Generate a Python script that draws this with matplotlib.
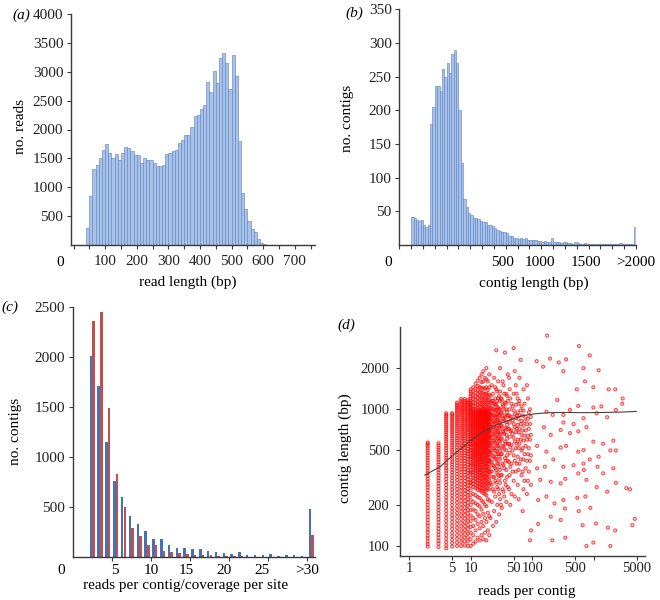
import numpy as np
import matplotlib
matplotlib.use('Agg')
import matplotlib.pyplot as plt

plt.rcParams['font.family'] = ['Liberation Serif', 'DejaVu Serif']
plt.rcParams['font.size'] = 11

# ---------------- (a) read length histogram (10 bp bins) ----------------
read_bin_centers = list(range(45, 620, 10))
read_counts = [300, 850, 1320, 1390, 1500, 1650, 1750, 1600, 1500, 1580, 1470, 1600,
               1700, 1680, 1620, 1550, 1560, 1420, 1500, 1470, 1480, 1420, 1360, 1370,
               1390, 1580, 1600, 1620, 1650, 1760, 1820, 1900, 1910, 2050, 2230, 2250,
               2350, 2420, 2820, 2650, 3020, 2800, 3240, 3330, 3150, 2700, 3290, 2920,
               1800, 900, 620, 420, 270, 230, 100, 40, 15, 8]
read_ticks = [100, 200, 300, 400, 500, 600, 700]

# ---------------- (b) contig length histogram (20 bp bins) ----------------
contig_bin_starts = list(range(100, 1980, 20))
contig_counts = [42, 40, 37, 36, 37, 29, 26, 30,
                 180, 205, 236, 236, 228, 262, 250, 270, 255, 283, 289, 270, 200, 122,
                 68, 56, 48, 44, 40, 40, 38, 35, 34, 34, 30, 29, 28, 25, 22, 21, 19, 20,
                 18, 14, 13, 11, 11, 9,
                 10, 9, 10, 8, 8, 7, 7, 6, 6, 5, 6, 5, 4, 10, 4, 4, 5, 3, 4, 5,
                 3, 3, 2, 4, 3, 2, 2, 3, 2, 2, 2, 1, 2, 2, 1, 2, 1, 1, 2, 1,
                 1, 1, 3, 1, 1, 1, 1, 1]
contig_over2000 = 27
contig_tick_labels = ['500', '1000', '1500', '>2000']

# ---------------- (c) reads per contig / coverage per site ----------------
c_categories = [str(i) for i in range(2, 30)] + ['>30']
reads_per_contig = [2010, 1710, 1150, 760, 600, 412, 329, 262, 180, 180, 123, 88, 93, 80,
                    86, 60, 52, 42, 33, 50, 26, 26, 20, 30, 13, 20, 20, 13, 480]
coverage_per_site = [2360, 2450, 1485, 828, 498, 296, 210, 123, 118, 66, 54, 44, 33, 26,
                     26, 20, 15, 12, 10, 10, 7, 7, 5, 5, 5, 5, 4, 4, 222]
c_tick_labels = ['5', '10', '15', '20', '25', '>30']

# ---------------- (d) contig length vs reads per contig ----------------
d_columns = {
    2: [99, 103, 108, 114, 119, 126, 132, 140, 147, 155, 163, 172, 181, 190, 200, 210, 221, 232,
        244, 256, 269, 282, 296, 310, 325, 340, 356, 372, 389, 406, 424, 442, 461, 480, 500,
        520, 540, 558, 570],
    3: [98, 104, 109, 115, 121, 127, 134, 141, 149, 157, 165, 174, 183, 193, 203, 214, 225, 237,
        249, 261, 274, 287, 301, 315, 330, 345, 361, 377, 394, 411, 429, 447, 466, 485, 505,
        525, 545, 565],
    4: [96, 101, 107, 113, 120, 127, 135, 143, 152, 161, 171, 181, 192, 203, 215, 227, 240, 253,
        266, 280, 294, 309, 324, 340, 356, 372, 389, 406, 424, 442, 461, 480, 500, 520, 541,
        562, 584, 606, 629, 652, 676, 700, 725, 750, 776, 802, 829, 856, 884, 912, 935],
    5: [99, 105, 111, 118, 125, 133, 141, 150, 159, 168, 178, 188, 199, 210, 222, 234, 246, 259,
        272, 286, 300, 315, 330, 346, 362, 378, 395, 412, 430, 448, 467, 486, 506, 526, 547,
        568, 590, 612, 635, 658, 682, 706, 731, 756, 782, 808, 835, 862, 890, 918, 935],
    6: [100, 106, 113, 120, 128, 136, 145, 154, 164, 174, 185, 196, 208, 220, 233, 246, 260, 274,
        289, 304, 320, 336, 353, 370, 388, 406, 425, 444, 464, 484, 505, 526, 548, 570, 593,
        616, 640, 664, 689, 714, 740, 766, 793, 820, 848, 876, 905, 934, 964, 994, 1025, 1056,
        1088, 1120],
    7: [100, 107, 114, 122, 130, 139, 148, 158, 168, 179, 190, 202, 214, 227, 240, 254, 268, 283,
        298, 314, 330, 347, 364, 382, 400, 419, 438, 458, 478, 499, 520, 542, 564, 587, 610,
        634, 658, 683, 708, 734, 760, 787, 814, 842, 870, 899, 928, 958, 988, 1019, 1050, 1082,
        1115, 1150, 1190],
    8: [101, 108, 115, 123, 131, 140, 149, 159, 169, 180, 191, 203, 215, 228, 241, 255, 269, 284,
        299, 315, 331, 348, 365, 383, 401, 420, 439, 459, 479, 500, 521, 543, 565, 588, 611,
        635, 659, 684, 709, 735, 761, 788, 815, 843, 871, 900, 929, 959, 989, 1020, 1052, 1085,
        1118, 1152, 1190],
    9: [100, 108, 116, 124, 133, 142, 152, 162, 173, 184, 196, 208, 221, 234, 248, 262, 277, 292,
        308, 324, 341, 358, 376, 394, 413, 432, 452, 472, 493, 514, 536, 558, 581, 604, 628,
        652, 677, 702, 728, 754, 781, 808, 836, 864, 893, 922, 952, 982, 1013, 1044, 1076,
        1108, 1140, 1170],
    10: [100, 112, 125, 138, 152, 167, 183, 200, 218, 236, 255, 275, 295, 316, 338, 360, 383,
         406, 430, 454, 479, 504, 530, 556, 583, 610, 638, 666, 695, 724, 754, 784, 815, 846,
         878, 910, 943, 976, 1010, 1045, 1080, 1120, 1160, 1200, 1250, 1300, 1350, 1400],
    11: [104, 120, 140, 160, 185, 210, 240, 270, 300, 330, 360, 390, 420, 450, 480, 510, 545,
         580, 615, 650, 690, 730, 770, 810, 855, 900, 950, 1000, 1060, 1120, 1190, 1260, 1350,
         1450],
    12: [108, 130, 155, 180, 205, 235, 265, 295, 325, 355, 385, 415, 445, 475, 505, 540, 575,
         610, 645, 685, 725, 765, 810, 855, 900, 950, 1000, 1050, 1110, 1170, 1240, 1320, 1420,
         1540],
    13: [115, 145, 170, 200, 228, 258, 288, 318, 348, 378, 408, 438, 468, 500, 532, 565, 600,
         635, 670, 710, 750, 790, 835, 880, 925, 975, 1025, 1080, 1140, 1210, 1290, 1380, 1480,
         1620],
    14: [110, 135, 165, 195, 225, 255, 285, 315, 345, 375, 405, 435, 468, 500, 535, 570, 605,
         642, 680, 720, 760, 800, 845, 890, 940, 990, 1045, 1100, 1170, 1250, 1340, 1450, 1700],
    15: [120, 150, 185, 215, 250, 280, 312, 345, 378, 410, 445, 480, 515, 550, 588, 625, 665,
         705, 748, 790, 835, 880, 930, 980, 1035, 1095, 1160, 1240, 1330, 1440, 1580, 1800],
    16: [112, 140, 172, 210, 245, 280, 318, 355, 392, 430, 468, 505, 545, 585, 625, 668, 710,
         755, 800, 850, 900, 955, 1010, 1070, 1140, 1220, 1310, 1420, 1600, 1900],
    17: [125, 160, 200, 240, 280, 320, 360, 400, 440, 480, 520, 560, 600, 645, 690, 735, 780,
         830, 880, 935, 990, 1050, 1120, 1200, 1300, 1420, 1700],
    18: [110, 150, 195, 235, 275, 318, 360, 402, 445, 488, 530, 575, 620, 665, 712, 760, 810,
         865, 920, 980, 1045, 1120, 1200, 1300, 1450, 1650, 2000],
    19: [130, 175, 220, 265, 310, 355, 400, 445, 490, 535, 580, 628, 676, 726, 778, 832, 890,
         950, 1015, 1090, 1170, 1260, 1380, 1600],
    20: [120, 165, 215, 260, 305, 350, 398, 446, 494, 542, 592, 642, 694, 748, 805, 865, 930,
         1000, 1080, 1170, 1280, 1450, 1800],
    21: [160, 290, 420, 560, 700, 850, 1020, 1250],
    22: [210, 350, 480, 620, 780, 950, 1150, 1500],
    23: [140, 260, 390, 520, 660, 820, 1000, 1300],
    24: [180, 320, 450, 590, 740, 900, 1100, 1700],
    25: [230, 370, 500, 640, 800, 980, 1200],
    26: [150, 290, 430, 560, 700, 870, 1080, 1400, 2700],
    27: [200, 340, 470, 610, 760, 930, 1150],
    28: [260, 400, 540, 680, 840, 1020, 1600],
    29: [170, 310, 450, 590, 730, 900, 1250],
    30: [220, 360, 500, 650, 800, 1000, 1350, 2000],
    32: [190, 330, 470, 610, 760, 940, 1180],
    34: [250, 390, 530, 680, 850, 1050, 1500],
    36: [300, 440, 580, 730, 900, 1120, 2600],
    38: [210, 360, 500, 650, 810, 1000, 1300],
    40: [270, 420, 560, 720, 900, 1150, 1800],
    43: [330, 480, 630, 800, 1000, 1400],
    46: [240, 400, 550, 700, 880, 1100],
    50: [300, 460, 620, 780, 980, 1300, 2800],
    54: [350, 520, 680, 860, 1080, 1500],
    58: [280, 450, 600, 770, 950, 1200],
    62: [400, 560, 720, 900, 1150, 1700],
    67: [330, 500, 650, 820, 1050],
    72: [260, 430, 590, 760, 980, 1400],
    78: [370, 540, 700, 880],
    85: [300, 470, 640, 850, 1200],
    92: [420, 600, 780, 1000],
}
# further contigs in the dense core of the cloud
d_columns_core = {
    10: [290, 345, 395, 445, 495, 545, 595, 650, 705, 765, 830, 895, 960, 1030, 1100],
    11: [285, 315, 345, 375, 405, 435, 465, 495, 528, 562, 598, 632, 670, 710, 750, 790, 832,
         877, 925, 975],
    12: [280, 310, 340, 370, 400, 430, 460, 490, 522, 557, 592, 627, 665, 705, 745, 787, 832,
         877, 925, 975],
    13: [273, 303, 333, 363, 393, 423, 453, 484, 516, 548, 582, 617, 652, 690, 730, 770, 812,
         857, 902, 950],
    14: [270, 300, 330, 360, 390, 420, 451, 484, 517, 552, 587, 623, 660, 700, 740, 780, 822,
         867, 915, 965],
    15: [265, 296, 328, 361, 394, 427, 462, 497, 532, 569, 606, 645, 685, 726, 769, 812, 857,
         905, 955],
    16: [262, 299, 336, 373, 411, 449, 486, 525, 565, 605, 646, 689, 732, 777, 825, 875, 927,
         982],
    17: [260, 300, 340, 380, 420, 460, 500, 540, 580, 622, 667, 712, 757, 805, 855, 907, 962],
    18: [255, 297, 339, 381, 423, 466, 509, 552, 597, 642, 688, 736, 785, 837, 892, 950],
    19: [287, 332, 377, 422, 467, 512, 557, 604, 652, 701, 752, 805, 861, 920, 982],
    20: [283, 328, 374, 422, 470, 518, 567, 617, 668, 721, 776, 835, 897, 965],
    21: [350, 490, 630, 770, 920, 1120],
    22: [280, 410, 550, 700, 860, 1050],
    23: [320, 455, 590, 740, 910, 1150],
    24: [250, 385, 520, 665, 820, 1000],
    25: [300, 435, 570, 720, 890, 1090, 1450],
    26: [360, 495, 630, 785, 970],
    27: [270, 405, 540, 685, 845, 1040, 1350],
    28: [330, 470, 610, 760, 930, 1200],
    29: [240, 380, 520, 660, 815, 1000],
    30: [290, 430, 575, 725, 900, 1150],
    31: [200, 330, 470, 610, 760, 940, 1200],
    33: [260, 400, 540, 690, 860, 1080, 1600],
    35: [230, 370, 510, 660, 820, 1000, 1300],
    37: [280, 420, 560, 710, 880, 1100],
    39: [320, 460, 610, 770, 950, 1250],
    42: [260, 410, 560, 720, 900, 1700],
    44: [200, 380, 530, 690, 860, 1200],
    48: [350, 500, 660, 830, 1050],
    52: [230, 420, 580, 740, 920, 1900],
    56: [400, 560, 720, 900, 1300],
    60: [220, 360, 520, 680, 850, 1100],
    65: [430, 600, 780, 980, 2300],
    70: [180, 350, 520, 700, 900],
    75: [300, 470, 640, 820, 1100],
    82: [240, 420, 600, 780, 1500],
    88: [350, 520, 720, 950],
    95: [280, 460, 650, 880],
}
d_far_x = [175, 575, 860, 355, 270, 195, 680, 320, 150, 118, 1200, 2230, 2950, 1750, 530, 720,
           985, 255, 560, 985, 1330, 2280, 320, 410, 680, 1114, 1650, 2900, 170, 215, 320, 470,
           760, 560, 410, 290, 200, 155, 1420, 985, 2080, 680, 560, 355, 290, 170, 120, 1200,
           1860, 2280, 860, 680, 470, 320, 220, 160, 120, 690, 1150, 1420, 2080, 560, 345, 290,
           200, 135, 760, 1114, 2280, 3380, 3880, 1650, 730, 540, 320, 230, 170, 125, 880, 340,
           570, 290, 125, 200, 660, 1090, 1700, 2230, 4630, 4250, 212, 345, 760, 985, 1860, 92, 96]
d_far_y = [3460, 2900, 2480, 2320, 2200, 2350, 2000, 1900, 2050, 2250, 1930, 1400, 1200, 1400,
           1400, 1600, 1450, 1170, 1060, 1030, 1050, 990, 910, 990, 860, 935, 875, 1100, 960, 910,
           800, 780, 740, 690, 670, 705, 650, 740, 560, 580, 590, 503, 490, 540, 525, 490, 540,
           450, 500, 500, 430, 400, 390, 380, 430, 380, 370, 360, 380, 340, 370, 340, 310, 287,
           295, 305, 305, 270, 290, 265, 260, 250, 230, 225, 217, 205, 230, 217, 190, 188, 180,
           155, 145, 164, 142, 146, 136, 130, 158, 142, 110, 115, 100, 106, 100, 110, 130]
fit_x = [1.8, 3.2, 5.2, 7.6, 11, 16, 26, 43, 71, 118, 194, 320, 676, 1430, 3020, 4900]
fit_y = [330, 380, 464, 533, 614, 687, 769, 836, 900, 930, 945, 948, 945, 948, 955, 965]

# ======================= drawing =======================
W, H = 660, 600
fig = plt.figure(figsize=(W / 100, H / 100), dpi=100)

AXC = '#3a3a3a'
BAR_FILL = '#a9c1e6'
BAR_EDGE = '#6289c9'
BLUE = '#4472b8'
RED = '#c0504d'


def add_ax(l, t, r, b):
    return fig.add_axes([l / W, 1 - b / H, (r - l) / W, (b - t) / H])


def ftext(x, y, s, **kw):
    kw.setdefault('ha', 'center')
    kw.setdefault('va', 'center')
    fig.text(x / W, 1 - y / H, s, **kw)


def style(ax, xpad=4.5, ypad=2.5, size=11):
    for s in ('top', 'right'):
        ax.spines[s].set_visible(False)
    for s in ('left', 'bottom'):
        ax.spines[s].set_color(AXC)
        ax.spines[s].set_linewidth(1.0)
    ax.tick_params(axis='both', direction='out', length=3, width=0.8, color=AXC,
                   labelsize=size, labelcolor='#222222')
    ax.tick_params(axis='x', pad=xpad)
    ax.tick_params(axis='y', pad=ypad)


# ---- (a)
ax = add_ax(71, 14, 315, 245)
ax.bar(read_bin_centers, read_counts, width=10, color=BAR_FILL, edgecolor=BAR_EDGE,
       linewidth=0.45)
ax.set_xlim(-8, 764)
ax.set_ylim(0, 4000)
xt = list(range(0, 751, 50))
ax.set_xticks(xt)
ax.set_xticklabels([str(v) if v in read_ticks else '' for v in xt])
ax.set_yticks(range(500, 4001, 500))
style(ax)
ftext(60, 262, '0')
ftext(188, 282, 'read length (bp)')
ftext(21, 126, 'no. reads', rotation=90)
ftext(21, 15, '(a)', style='italic')

# ---- (b)
ax = add_ax(399.3, 9.3, 636, 245)
ax.bar([s + 10 for s in contig_bin_starts], contig_counts, width=20, color=BAR_FILL,
       edgecolor=BAR_EDGE, linewidth=0.45)
ax.bar([1990], [contig_over2000], width=20, color=BAR_FILL, edgecolor=BAR_EDGE, linewidth=0.45)
ax.set_xlim(0, 2000)
ax.set_ylim(0, 350)
ax.set_xticks(range(0, 2001, 100))
ax.set_xticklabels([''] * 21)
ax.set_yticks(range(50, 351, 50))
style(ax)
for px_, lab in zip([502, 540, 586, 636], contig_tick_labels):
    ftext(px_, 262, lab)
ftext(388, 262, '0')
ftext(534, 283, 'contig length (bp)')
ftext(348, 118, 'no. contigs', rotation=90)
ftext(354, 13, '(b)', style='italic')

# ---- (c)
ax = add_ax(72.7, 306.7, 315, 557.3)
pos = list(range(2, 30)) + [30]
ax.bar([p - 0.17 for p in pos], reads_per_contig, width=0.32, color=BLUE, linewidth=0)
ax.bar([p + 0.17 for p in pos], coverage_per_site, width=0.32, color=RED, linewidth=0)
ax.set_xlim(-0.5, 30.5)
ax.set_ylim(0, 2500)
ax.set_xticks([4.5, 9.5, 14.5, 19.5, 24.5, 29.5])
ax.set_xticklabels([''] * 6)
ax.set_yticks(range(500, 2501, 500))
style(ax)
for lp, lab in zip([4.9, 9.6, 14.0, 18.8, 23.7, 29.5], c_tick_labels):
    ftext(72.7 + (lp + 0.5) * 7.816, 571, lab)
ftext(61, 571, '0')
ftext(185.5, 586, 'reads per contig/coverage per site')
ftext(16, 431, 'no. contigs', rotation=90)
ftext(1, 307, '(c)', style='italic', ha='left')

# ---- (d)
ax = add_ax(400, 326.7, 645, 556)
xs, ys = [], []
for cols in (d_columns, d_columns_core):
    for k, vals in cols.items():
        xs.extend([k] * len(vals))
        ys.extend(vals)
xs.extend(d_far_x)
ys.extend(d_far_y)
ax.scatter(xs, ys, s=4.5, facecolors='none', edgecolors=(1, 0, 0, 0.7), linewidths=0.85)
ax.plot(fit_x, fit_y, color='#444444', lw=0.8)
ax.set_xscale('log')
ax.set_yscale('log')
ax.set_xlim(0.71, 6800)
ax.set_ylim(84.5, 4020)
ax.set_xticks([1, 5, 10, 50, 100, 500, 1000, 5000])
ax.set_xticklabels(['1', '5', '10', '50', '100', '500', '', '5000'])
ax.set_yticks([100, 200, 500, 1000, 2000])
ax.set_yticklabels(['100', '200', '500', '1000', '2000'])
ax.minorticks_off()
style(ax, xpad=1.5, ypad=4.5, size=10.5)
ftext(526.7, 592, 'reads per contig')
ftext(345, 448, 'contig length (bp)', rotation=90)
ftext(346, 325, '(d)', style='italic')

fig.savefig('out.png', dpi=100)
